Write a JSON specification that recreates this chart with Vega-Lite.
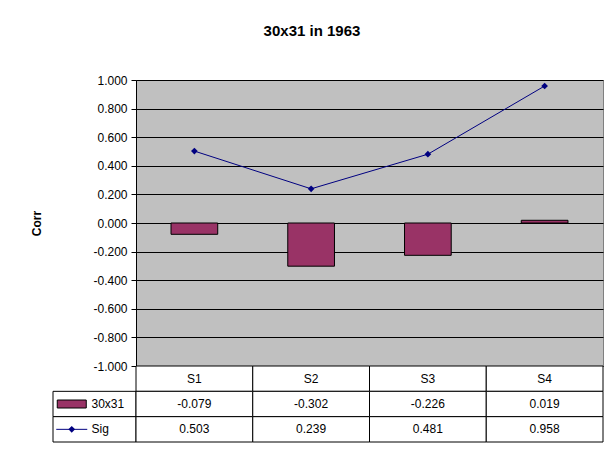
{
  "$schema": "https://vega.github.io/schema/vega-lite/v6.json",
  "padding": {"left": 30, "top": 23, "right": 5, "bottom": 5},
  "background": "white",
  "config": {
    "font": "Liberation Sans",
    "view": {"stroke": null},
    "locale": {"number": {"decimal": ".", "thousands": ",", "grouping": [3], "currency": ["$", ""], "minus": "-"}}
  },
  "title": {"text": "30x31 in 1963", "fontSize": 15, "fontWeight": "bold", "font": "Liberation Sans", "color": "black", "offset": 35, "anchor": "middle", "dx": -5},
  "datasets": {
    "main": [
      {"cat": "S1", "corr": -0.079, "sig": 0.503},
      {"cat": "S2", "corr": -0.302, "sig": 0.239},
      {"cat": "S3", "corr": -0.226, "sig": 0.481},
      {"cat": "S4", "corr": 0.019, "sig": 0.958}
    ],
    "leg": [
      {"k": "corr", "label": "30x31"},
      {"k": "sig", "label": "Sig"}
    ]
  },
  "columns": 2,
  "spacing": 0,
  "bounds": "flush",
  "concat": [
    {
      "width": 83, "height": 286,
      "data": {"values": [{}]},
      "mark": {"type": "text"},
      "encoding": {"text": {"value": ""}}
    },
    {
      "width": 467, "height": 286,
      "view": {"fill": "#C0C0C0", "stroke": "#808080"},
      "data": {"name": "main"},
      "encoding": {
        "x": {"field": "cat", "type": "nominal", "scale": {"paddingInner": 0.6, "paddingOuter": 0.3}, "axis": null}
      },
      "layer": [
        {
          "mark": {"type": "bar", "fill": "#993366", "stroke": "black", "strokeWidth": 1},
          "encoding": {
            "y": {"field": "corr", "type": "quantitative", "title": "Corr",
              "scale": {"domain": [-1, 1], "nice": false, "zero": false},
              "axis": {"values": [-1, -0.8, -0.6, -0.4, -0.2, 0, 0.2, 0.4, 0.6, 0.8, 1], "tickCount": 11, "format": ".3f",
                "labelOverlap": false, "labelBound": false, "labelFlush": false,
                "grid": true, "gridColor": "black", "gridWidth": 1, "gridOpacity": 1,
                "domainColor": "black", "tickColor": "black", "tickSize": 5, "labelPadding": 4,
                "labelFontSize": 12, "labelColor": "black", "labelFont": "Liberation Sans",
                "titleFontSize": 12, "titleFontWeight": "bold", "titleColor": "black", "titleFont": "Liberation Sans", "titlePadding": 49}},
            "y2": {"datum": 0}
          }
        },
        {
          "mark": {"type": "line", "color": "#000080", "strokeWidth": 1},
          "encoding": {"y": {"field": "sig", "type": "quantitative", "title": "Corr"}}
        },
        {
          "mark": {"type": "point", "shape": "diamond", "filled": true, "color": "#000080", "size": 45, "opacity": 1},
          "encoding": {"y": {"field": "sig", "type": "quantitative", "title": "Corr"}}
        }
      ]
    },
    {
      "width": 83, "height": 76,
      "data": {"name": "leg"},
      "encoding": {
        "y": {"field": "k", "type": "nominal", "scale": {"domain": ["hdr", "corr", "sig"], "paddingInner": 0, "paddingOuter": 0}, "axis": null}
      },
      "layer": [
        {"mark": {"type": "rect", "fill": "white", "stroke": "black", "strokeWidth": 1}},
        {
          "mark": {"type": "text", "align": "left", "baseline": "middle", "fontSize": 12, "color": "black", "dx": -3},
          "encoding": {
            "x": {"datum": "lab", "type": "nominal", "bandPosition": 0, "scale": {"domain": ["sym", "lab"], "paddingInner": 0, "paddingOuter": 0}, "axis": null},
            "text": {"field": "label"}
          }
        },
        {
          "transform": [{"filter": "datum.k === 'corr'"}],
          "mark": {"type": "rect", "width": 29, "height": 8, "fill": "#993366", "stroke": "black", "strokeWidth": 1, "xOffset": -2},
          "encoding": {"x": {"datum": "sym", "type": "nominal"}}
        },
        {
          "transform": [{"filter": "datum.k === 'sig'"}],
          "mark": {"type": "tick", "orient": "horizontal", "size": 31, "thickness": 1, "color": "#000080", "opacity": 1, "xOffset": -2},
          "encoding": {"x": {"datum": "sym", "type": "nominal"}}
        },
        {
          "transform": [{"filter": "datum.k === 'sig'"}],
          "mark": {"type": "point", "shape": "diamond", "filled": true, "color": "#000080", "size": 45, "opacity": 1, "xOffset": -2},
          "encoding": {"x": {"datum": "sym", "type": "nominal"}}
        }
      ]
    },
    {
      "width": 467, "height": 76,
      "data": {"name": "main"},
      "encoding": {
        "x": {"field": "cat", "type": "nominal", "scale": {"paddingInner": 0, "paddingOuter": 0}, "axis": null}
      },
      "layer": [
        {"mark": {"type": "rect", "fill": "white", "stroke": "black", "strokeWidth": 1},
         "encoding": {"y": {"datum": "hdr", "type": "nominal", "scale": {"domain": ["hdr", "corr", "sig"], "paddingInner": 0, "paddingOuter": 0}, "axis": null}}},
        {"mark": {"type": "rect", "fill": "white", "stroke": "black", "strokeWidth": 1},
         "encoding": {"y": {"datum": "corr", "type": "nominal"}}},
        {"mark": {"type": "rect", "fill": "white", "stroke": "black", "strokeWidth": 1},
         "encoding": {"y": {"datum": "sig", "type": "nominal"}}},
        {"mark": {"type": "text", "fontSize": 12, "color": "black", "baseline": "middle"},
         "encoding": {"y": {"datum": "hdr", "type": "nominal"}, "text": {"field": "cat"}}},
        {"mark": {"type": "text", "fontSize": 12, "color": "black", "baseline": "middle"},
         "encoding": {"y": {"datum": "corr", "type": "nominal"}, "text": {"field": "corr", "type": "quantitative", "format": ".3f"}}},
        {"mark": {"type": "text", "fontSize": 12, "color": "black", "baseline": "middle"},
         "encoding": {"y": {"datum": "sig", "type": "nominal"}, "text": {"field": "sig", "type": "quantitative", "format": ".3f"}}}
      ]
    }
  ]
}
